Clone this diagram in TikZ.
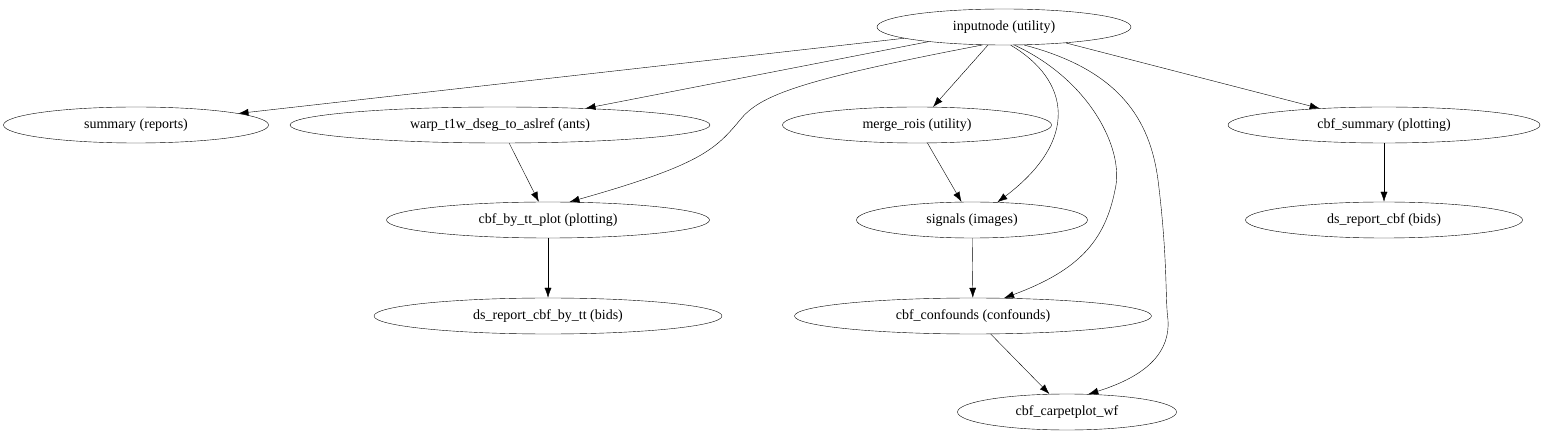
\documentclass[tikz,border=0pt]{standalone}
\usepackage{fontspec}
\setmainfont{Liberation Serif}
\usetikzlibrary{shapes.geometric,arrows.meta}
\tikzset{>={Latex[length=10pt,width=7pt]}}
\tikzstyle{proc}=[draw,ellipse,minimum height=36pt,inner sep=0pt,font=\fontsize{14}{16}\selectfont]
\tikzstyle{edge}=[->,thin]

\begin{document}
\begin{tikzpicture}[x=1pt,y=-1pt]
    \useasboundingbox (0,0) rectangle (1549,443);

    % nodes, row by row
    \node[proc,minimum width=254] (inputnode) at (1004,27) {inputnode (utility)};
    \node[proc,minimum width=265] (summary) at (136,125) {summary (reports)};
    \node[proc,minimum width=420] (warp) at (500,125) {warp\_t1w\_dseg\_to\_aslref (ants)};
    \node[proc,minimum width=269] (merge) at (917,125) {merge\_rois (utility)};
    \node[proc,minimum width=312] (cbfsummary) at (1384,125) {cbf\_summary (plotting)};
    \node[proc,minimum width=323] (bytt) at (548,220) {cbf\_by\_tt\_plot (plotting)};
    \node[proc,minimum width=231] (signals) at (972,220) {signals (images)};
    \node[proc,minimum width=277] (dscbf) at (1384,220) {ds\_report\_cbf (bids)};
    \node[proc,minimum width=348] (dsbytt) at (548,316) {ds\_report\_cbf\_by\_tt (bids)};
    \node[proc,minimum width=357] (confounds) at (973,316) {cbf\_confounds (confounds)};
    \node[proc,minimum width=219] (carpet) at (1067,412) {cbf\_carpetplot\_wf};

    % straight edges
    \draw[edge] (inputnode) -- (summary);
    \draw[edge] (inputnode) -- (warp);
    \draw[edge] (inputnode) -- (merge);
    \draw[edge] (inputnode) -- (cbfsummary);
    \draw[edge] (warp) -- (bytt);
    \draw[edge] (merge) -- (signals);
    \draw[edge] (signals) -- (confounds);
    \draw[edge] (confounds) -- (carpet);
    \draw[edge] (bytt) -- (dsbytt);
    \draw[edge] (cbfsummary) -- (dscbf);

    % curved edges
    \draw[edge] (inputnode.220) .. controls (800,80) and (760,95) .. (740,120)
      .. controls (715,150) and (700,165) .. (bytt.40);
    \draw[edge] (inputnode.290) .. controls (1070,80) and (1080,140) .. (signals.35);
    \draw[edge] (inputnode.300) .. controls (1090,80) and (1125,150) .. (1115,190)
      .. controls (1105,240) and (1080,270) .. (confounds.30);
    \draw[edge] (inputnode.318) .. controls (1120,70) and (1150,120) .. (1158,180)
      .. controls (1168,260) and (1165,300) .. (1168,320)
      .. controls (1170,350) and (1150,375) .. (carpet.40);
\end{tikzpicture}
\end{document}
